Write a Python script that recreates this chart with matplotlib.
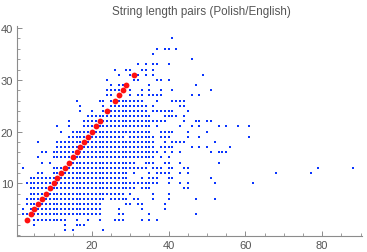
import matplotlib
matplotlib.use("Agg")
import matplotlib.pyplot as plt
from matplotlib.ticker import MultipleLocator

TITLE = "String length pairs (Polish/English)"

# Observed (Polish length x, English length y) pairs, grouped by y.
# A tuple (a, b) means every length from a to b is present.
ROWS_LOW = {
    1: [13, 15, 23],
    2: [5, 13, (16, 18)],
    3: [(5, 13), 16, 19, 22, (26, 28), 33, 35, 37],
    4: [(2, 22), 27, 28, 35, 47],
    5: [2, (4, 22), 27, 33, 39],
    6: [(3, 22), 29, 30, 32, 33, 39],
    7: [(3, 23), (25, 29), 31, 32, 36, 40, 47, 52],
    8: [(4, 28), 30, 36, 40],
    9: [(4, 31), (33, 35), 44, 45],
}
ROWS_MID = {
    10: [(3, 37), 40, 43, 45, 52, 62],
    11: [(4, 29), 33, (35, 37), 40, 41, 51],
    12: [6, 7, (10, 29), 31, 35, (37, 40), 43, 45, 68, 77],
    13: [2, (10, 34), (36, 38), 40, 41, 44, 45, 79, 88],
    14: [7, 9, (14, 31), (34, 36), 39, 40, 43, 53],
    15: [6, (10, 36), 38, 40],
    16: [7, 8, (10, 37), 39, 41, 43, 51, (53, 55)],
    17: [(11, 36), (38, 41), 46, 48, 50, 56],
    18: [6, (11, 36), 39, (41, 44), 52],
    19: [(14, 28), (30, 36), (38, 40), 45, 48, 61],
}
ROWS_HIGH = {
    20: [12, (15, 35), (38, 41), 45, 50],
    21: [11, 14, (18, 35), 37, 43, 46, 48, 53, 55, 58, 61],
    22: [14, (18, 39), 44, 47, 48, 50, 51],
    23: [(19, 35), (39, 42), 44],
    24: [17, 20, (23, 34), (36, 41), 45],
    25: [17, 23, (25, 34), 36, 43, 44],
    26: [16, 22, 23, 25, (27, 33), 37, (41, 44)],
    27: [24, 25, 30, 32, 33, (35, 38), 46, 48],
    28: [(24, 27), 30, 33, 35, 38, 41, 51],
    29: [25, 27, 28, 35, 47],
    30: [24, 31, 32, 37, 38, 40],
    31: [27, 30, 32, 34, 36, 49],
    32: [26, 29, 30, 33, 34, 36],
    33: [32, 34, 36, 37, 40],
    34: [46],
    35: [36],
    36: [37, 39, 40, 42],
    38: [41],
}

# Lengths where Polish and English strings are equally long (red markers)
EQUAL_LEN = [3, 4, 5, 6, 7, 8, 9, 10, 11, 12, 13, 14, 15, 16, 17, 18, 19,
             20, 21, 22, 24, 26, 27, 28, 29, 31]

X_TICKS = [20, 40, 60, 80]
Y_TICKS = [10, 20, 30, 40]


def expand(rows):
    xs, ys = [], []
    for y, items in rows.items():
        for it in items:
            if isinstance(it, tuple):
                vals = range(it[0], it[1] + 1)
            else:
                vals = [it]
            for v in vals:
                xs.append(v)
                ys.append(y)
    return xs, ys


plt.rcParams.update({
    "font.family": ["Liberation Sans", "DejaVu Sans"],
    "axes.linewidth": 0.8,
})

fig = plt.figure(figsize=(3.67, 2.53), dpi=100)
ax = fig.add_axes([0.0455, 0.062, 0.940, 0.831])

bx, by = [], []
for rows in (ROWS_LOW, ROWS_MID, ROWS_HIGH):
    x, y = expand(rows)
    bx += x
    by += y

ax.plot(bx, by, linestyle="none", marker="s", ms=1.75, mew=0,
        color="#0a35ff")
ax.plot(EQUAL_LEN, EQUAL_LEN, linestyle="none", marker="o", ms=4.2, mew=0,
        color="#ff1010")

ax.set_xlim(0.4, 90.3)
ax.set_ylim(-0.25, 40.4)

for side in ("top", "right"):
    ax.spines[side].set_visible(False)
for side in ("left", "bottom"):
    ax.spines[side].set_color("#8c8c8c")

ax.set_xticks(X_TICKS)
ax.set_yticks(Y_TICKS)
ax.xaxis.set_minor_locator(MultipleLocator(5))
ax.yaxis.set_minor_locator(MultipleLocator(2))
ax.tick_params(which="major", direction="in", length=3.4, width=0.7,
               color="#8c8c8c", labelsize=8, labelcolor="#555555", pad=2.5)
ax.tick_params(which="minor", direction="in", length=1.9, width=0.6,
               color="#8c8c8c")

fig.text(0.55, 1 - 12 / 253, TITLE, ha="center", va="center",
         fontsize=8.4, color="#555555")

fig.savefig("out.png", dpi=100)
